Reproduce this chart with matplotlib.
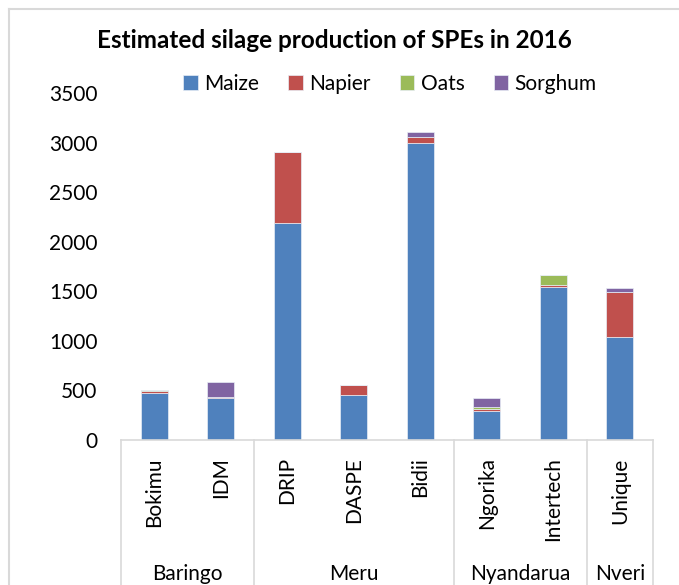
import matplotlib.pyplot as plt
import numpy as np
from matplotlib.lines import Line2D

plt.rcParams['font.family'] = ['Lato', 'DejaVu Sans']

# estimated silage production (tons) per SPE
spes = ['Bokimu', 'IDM', 'DRIP', 'DASPE', 'Bidii', 'Ngorika', 'Intertech', 'Unique']
counties = ['Baringo', 'Meru', 'Nyandarua', 'Nveri']
county_sizes = [2, 3, 2, 1]

maize = [475, 420, 2185, 450, 3000, 290, 1545, 1035]
napier = [22, 10, 715, 100, 55, 20, 15, 455]
oats = [8, 0, 0, 0, 0, 25, 105, 0]
sorghum = [0, 152, 0, 0, 55, 90, 0, 45]

series = [('Maize', maize, '#4F81BD'), ('Napier', napier, '#C0504D'),
          ('Oats', oats, '#9BBB59'), ('Sorghum', sorghum, '#8064A2')]

fig = plt.figure(figsize=(6.79, 5.85), dpi=100)
ax = fig.add_axes([121/679, 145/585, 532/679, 347/585])

x = np.arange(len(spes))
bottom = np.zeros(len(spes))
for name, vals, col in series:
    vals = np.array(vals, dtype=float)
    ax.bar(x, vals, width=0.4, bottom=bottom, color=col, label=name,
           edgecolor='#E8EEF6', linewidth=0.5)
    bottom += vals

ax.set_xlim(-0.5, len(spes) - 0.5)
ax.set_ylim(0, 3500)
ax.set_yticks(np.arange(0, 3501, 500))
ax.tick_params(axis='y', length=0, pad=17, labelsize=15)
ax.set_xticks([])
for s in ['top', 'right', 'left']:
    ax.spines[s].set_visible(False)
ax.spines['bottom'].set_color('#D9D9D9')
ax.spines['bottom'].set_linewidth(1.2)

# category labels (rotated) and county groups
for i, name in enumerate(spes):
    ax.text(i, -0.05, name, rotation=90, ha='center', va='top', fontsize=15,
            transform=ax.get_xaxis_transform())

edges = np.concatenate([[0], np.cumsum(county_sizes)]) - 0.5
for e in edges:
    ax.add_line(Line2D([e, e], [0, -0.45], color='#D9D9D9', lw=1.2,
                       transform=ax.get_xaxis_transform(), clip_on=False))
for k, c in enumerate(counties):
    mid = (edges[k] + edges[k + 1]) / 2
    ax.text(mid, -0.416, c, ha='center', va='bottom', fontsize=15,
            transform=ax.get_xaxis_transform())

# chart border
fig.add_artist(Line2D([9/679, 9/679], [0, 1 - 9/585], color='#D9D9D9', lw=1.5))
fig.add_artist(Line2D([9/679, 1], [1 - 9/585, 1 - 9/585], color='#D9D9D9', lw=1.5))

fig.text(334/679, 1 - 40/585, 'Estimated silage production of SPEs in 2016',
         ha='center', va='center', fontsize=17.5, fontweight='bold')
fig.legend(loc='center', bbox_to_anchor=(390/679, 1 - 84/585), ncol=4,
           frameon=False, fontsize=15, handlelength=0.7, handleheight=0.7,
           handletextpad=0.3, columnspacing=1.4)

plt.savefig('out.png', dpi=100)
